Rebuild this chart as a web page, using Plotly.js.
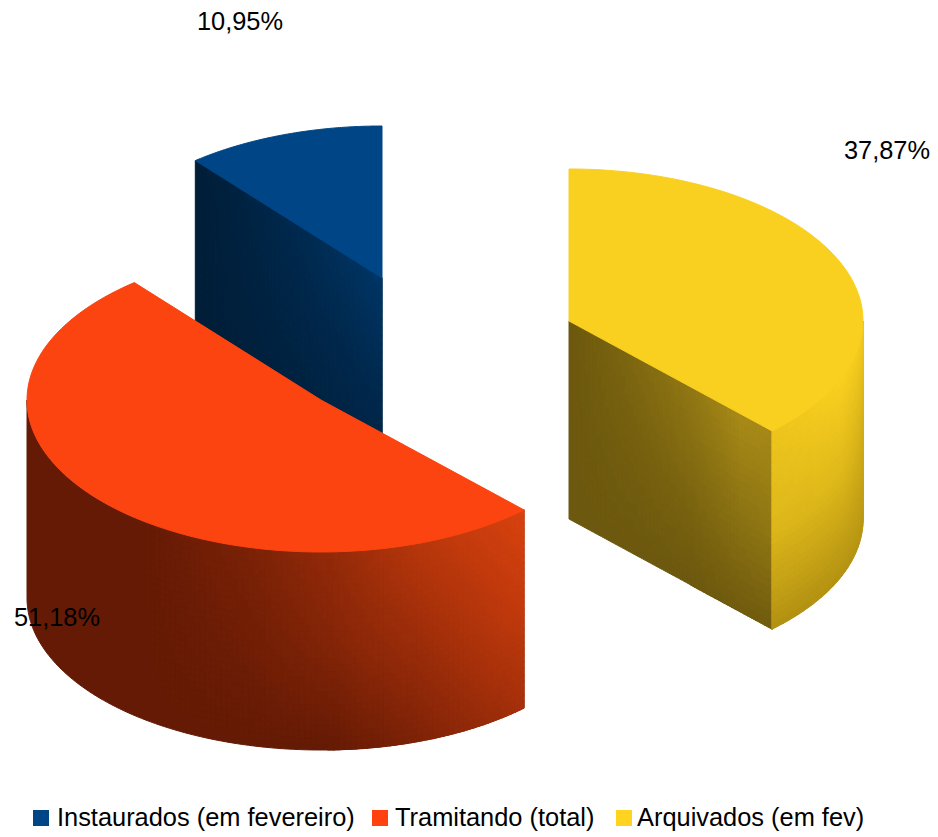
<!DOCTYPE html>
<html>
<head>
<meta charset="utf-8">
<script src="https://cdn.plot.ly/plotly-3.0.1.min.js"></script>
<style>html,body{margin:0;padding:0;background:#fff}#chart{width:938px;height:837px}</style>
</head>
<body>
<div id="chart"></div>
<script>
// ---- data ----
const categories = ["Instaurados (em fevereiro)", "Tramitando (total)", "Arquivados (em fev)"];
const shares = [10.95, 51.18, 37.87];

// ---- layout / style (pixel-space plot frame) ----
const topColors = ["#004586", "#fb4410", "#f9d020"];
const legendColors = ["#004586", "#ff420e", "#ffd320"];
const centers = [[382, 278], [321, 400], [569, 321]];
const RX = 294, RY = 152, DEPTH = 198;
const labelPos = [[240, 24], [57, 620], [887, 153]];
const legendSwatchX = [41, 380, 624];
const legendTextX = [57, 395, 637];
const legendY = 820;

// cumulative angles, counter-clockwise from 12 o'clock
const total = shares.reduce((a, b) => a + b, 0);
let acc = 0;
const angles = shares.map(v => {
  const a0 = 90 + acc / total * 360;
  acc += v;
  return [a0, 90 + acc / total * 360];
});
const rad = d => d * Math.PI / 180;
const pt = (c, deg, dz) => [c[0] + RX * Math.cos(rad(deg)), c[1] - RY * Math.sin(rad(deg)) + (dz || 0)];

const traces = [];
function poly(pts, color) {
  traces.push({
    type: "scatter", mode: "lines", x: pts.map(p => p[0]), y: pts.map(p => p[1]),
    fill: "toself", fillcolor: color, line: { color: color, width: 1, simplify: false },
    hoverinfo: "skip", showlegend: false
  });
}
function lerpTable(tbl, us, vs, u, v) {
  const find = (arr, q) => {
    let i = 0;
    while (i < arr.length - 2 && q > arr[i + 1]) i++;
    return [i, Math.min(1, Math.max(0, (q - arr[i]) / (arr[i + 1] - arr[i])))];
  };
  const [i, fu] = find(us, u), [j, fv] = find(vs, v);
  const a = tbl[i][j] * (1 - fv) + tbl[i][j + 1] * fv;
  const b = tbl[i + 1][j] * (1 - fv) + tbl[i + 1][j + 1] * fv;
  return a * (1 - fu) + b * fu;
}
// A wall: a solid base in the darkest shade, then cells grouped by quantised shade
function wall(nu, nv, pos, shade, dark, bright, levels) {
  const outline = [];
  for (let i = 0; i <= nu; i++) outline.push(pos(i / nu, 0));
  for (let i = nu; i >= 0; i--) outline.push(pos(i / nu, 1));
  outline.push(pos(0, 0));
  poly(outline, `rgb(${dark.join(",")})`);

  const groups = {};
  for (let i = 0; i < nu; i++) for (let j = 0; j < nv; j++) {
    const u0 = i / nu, u1 = (i + 1) / nu, v0 = j / nv, v1 = (j + 1) / nv;
    const s = shade((u0 + u1) / 2, (v0 + v1) / 2);
    const k = Math.round(Math.min(1, Math.max(0, s)) * levels);
    if (k === 0) continue;
    (groups[k] = groups[k] || []).push([pos(u0, v0), pos(u1, v0), pos(u1, v1), pos(u0, v1), pos(u0, v0)]);
  }
  Object.keys(groups).map(Number).sort((a, b) => a - b).forEach(k => {
    const c = dark.map((d, n) => Math.round(d + (bright[n] - d) * k / levels));
    const col = `rgb(${c.join(",")})`;
    const xs = [], ys = [];
    groups[k].forEach(cell => {
      cell.forEach(p => { xs.push(p[0]); ys.push(p[1]); });
      xs.push(null); ys.push(null);
    });
    traces.push({
      type: "scatter", mode: "lines", x: xs, y: ys, fill: "toself", fillcolor: col,
      line: { color: col, width: 1.2, simplify: false }, hoverinfo: "skip", showlegend: false, connectgaps: false
    });
  });
}
function topFace(idx) {
  const c = centers[idx], [a0, a1] = angles[idx], pts = [c];
  const n = 90;
  for (let i = 0; i <= n; i++) pts.push(pt(c, a0 + (a1 - a0) * i / n));
  pts.push(c);
  poly(pts, topColors[idx]);
}

// Blue: radial wall (edge at its far angle, back to the centre)
(function () {
  const c = centers[0], e = pt(c, angles[0][1]);
  const t = [[0, 0, 0], [.42, .25, .1], [.92, .5, .22]];
  wall(46, 24,
    (u, v) => [e[0] + (c[0] - e[0]) * u, e[1] + (c[1] - e[1]) * u + DEPTH * v],
    (u, v) => lerpTable(t, [0, .5, 1], [0, .5, 1], u, v),
    [0, 30, 56], [0, 56, 106], 40);
  topFace(0);
})();

// Red: outer curved wall (only the part facing the viewer, from the leftmost point on)
(function () {
  const c = centers[1], a1 = angles[1][1], a0 = Math.max(angles[1][0], 180);
  const xs = [140, 250, 330, 420, 525], vs = [0, .5, 1];
  const t = [[0, 0, 0], [.2, .1, 0], [.4, .25, 0], [.72, .48, .22], [1, .82, .56]];
  wall(120, 30,
    (u, v) => pt(c, a0 + (a1 - a0) * u, DEPTH * v),
    (u, v) => lerpTable(t, xs, vs, Math.max(140, pt(c, a0 + (a1 - a0) * u)[0]), v),
    [100, 26, 5], [216, 66, 15], 60);
  topFace(1);
})();

// Yellow: radial wall and outer wall
(function () {
  const c = centers[2], [a0, a1] = angles[2], e = pt(c, a0);
  const t = [[0, 0, 0], [.28, .12, 0], [.6, .28, 0], [.97, .52, .07], [.92, .6, .07]];
  wall(50, 24,
    (u, v) => [c[0] + (e[0] - c[0]) * u, c[1] + (e[1] - c[1]) * u + DEPTH * v],
    (u, v) => lerpTable(t, [0, .3, .6, .85, 1], [0, .5, 1], u, v),
    [108, 88, 14], [170, 140, 24], 40);
  const t2 = [[.82, .62, .04], [1, .62, .06], [.85, .42, .12]];
  wall(30, 30,
    (u, v) => pt(c, a0 + (360 - a0) * u, DEPTH * v),
    (u, v) => lerpTable(t2, [0, .5, 1], [0, .5, 1], u, v),
    [175, 142, 18], [249, 208, 32], 50);
  topFace(2);
})();

// Data labels
const fmt = v => v.toFixed(2).replace(".", ",") + "%";
traces.push({
  type: "scatter", mode: "text", x: labelPos.map(p => p[0]), y: labelPos.map(p => p[1]),
  text: shares.map(fmt), textposition: "middle center",
  textfont: { family: "Liberation Sans", size: 25.4, color: "#000" },
  hoverinfo: "skip", showlegend: false
});
// Legend
traces.push({
  type: "scatter", mode: "markers", x: legendSwatchX, y: legendSwatchX.map(() => legendY - 2),
  marker: { symbol: "square", size: 16, color: legendColors },
  hoverinfo: "skip", showlegend: false
});
traces.push({
  type: "scatter", mode: "text", x: legendTextX, y: legendTextX.map(() => legendY),
  text: categories, textposition: "middle right",
  textfont: { family: "Liberation Sans", size: 25.4, color: "#000" },
  hoverinfo: "skip", showlegend: false
});

Plotly.newPlot("chart", traces, {
  width: 938, height: 837, margin: { l: 0, r: 0, t: 0, b: 0 },
  paper_bgcolor: "#fff", plot_bgcolor: "#fff", showlegend: false,
  xaxis: { range: [0, 938], visible: false, fixedrange: true },
  yaxis: { range: [837, 0], visible: false, fixedrange: true }
}, { displayModeBar: false, staticPlot: true });
</script>
</body>
</html>
